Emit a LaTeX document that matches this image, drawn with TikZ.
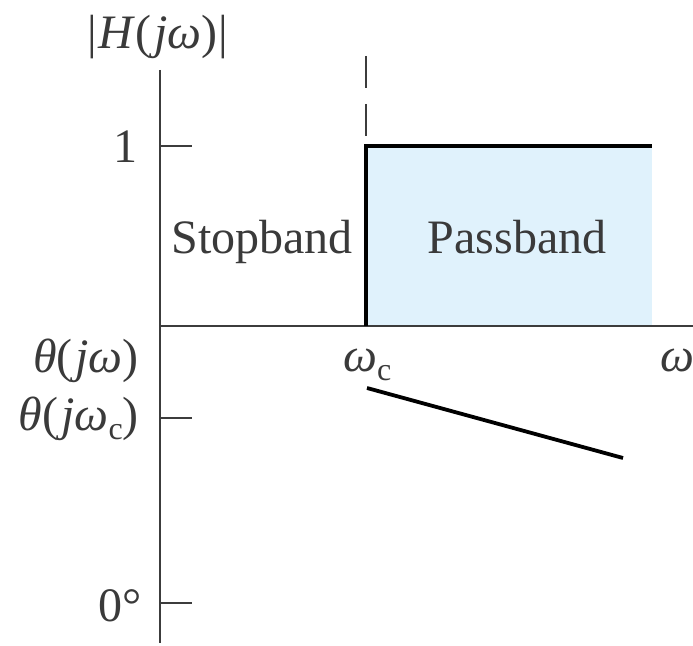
\documentclass[tikz,border=0pt]{standalone}
\usepackage{fontspec}
\setmainfont{Liberation Serif}
\definecolor{passfill}{HTML}{E0F2FC}
\definecolor{axisgray}{HTML}{3C3C3C}
\definecolor{txtgray}{HTML}{3A3A3A}
\newcommand{\subcee}{\raisebox{-9bp}{\fontsize{32bp}{32bp}\selectfont c}}
\newcommand{\pkern}{\kern3bp}
\begin{document}
\begin{tikzpicture}[x=1bp,y=-1bp,
  axisline/.style={draw=axisgray, line width=2.6bp},
  curveline/.style={draw=black, line width=3.8bp, line join=miter},
  lbl/.style={text=txtgray, font=\fontsize{48bp}{56bp}\selectfont, inner sep=0pt}]
\useasboundingbox (0,0) rectangle (693,646);
% coordinates
\coordinate (ytop) at (160,70);
\coordinate (ybot) at (160,643);
\coordinate (origin) at (160,326);
\coordinate (xend) at (693,326);
\coordinate (t1a) at (160,146);   \coordinate (t1b) at (192,146);
\coordinate (t2a) at (160,418);   \coordinate (t2b) at (192,418);
\coordinate (t3a) at (160,603);   \coordinate (t3b) at (192,603);
\coordinate (dtop) at (366,56);   \coordinate (dbot) at (366,137);
\coordinate (pbl) at (366,326);   \coordinate (ptl) at (366,146);
\coordinate (ptr) at (652,146);   \coordinate (pbr) at (652,326);
\coordinate (ph1) at (367,388);   \coordinate (ph2) at (623,458);
% passband fill
\fill[passfill] (pbl) rectangle (ptr);
% axes and ticks
\draw[axisline] (ytop) -- (ybot);
\draw[axisline] (origin) -- (xend);
\draw[axisline] (t1a) -- (t1b);
\draw[axisline] (t2a) -- (t2b);
\draw[axisline] (t3a) -- (t3b);
\draw[draw=axisgray, line width=2.4bp, dash pattern=on 32bp off 16bp] (dtop) -- (dbot);
% magnitude and phase
\draw[curveline] (pbl) -- (ptl) -- (ptr);
\draw[curveline] (ph1) -- (ph2);
% labels
\node[lbl, anchor=base] (hlab) at (158,49) {|\kern1bp\textit{H}(\pkern\textit{jω})\kern1bp|};
\node[lbl, anchor=base east] (one) at (138,163) {1};
\node[lbl, anchor=base] (stop) at (262,253) {Stopband};
\node[lbl, anchor=base] (pass) at (517,253) {Passband};
\node[lbl, anchor=base east] (thw) at (139,372) {\textit{θ}(\pkern\textit{jω})};
\node[lbl, anchor=base east] (thwc) at (139,430) {\textit{θ}(\pkern\textit{jω}\subcee)};
\node[lbl, anchor=base east] (zero) at (142,621) {0°};
\node[lbl, anchor=base west] (wc) at (343,371) {\textit{ω}\subcee};
\node[lbl, anchor=base west] (w) at (660,371) {\textit{ω}};
\end{tikzpicture}
\end{document}
